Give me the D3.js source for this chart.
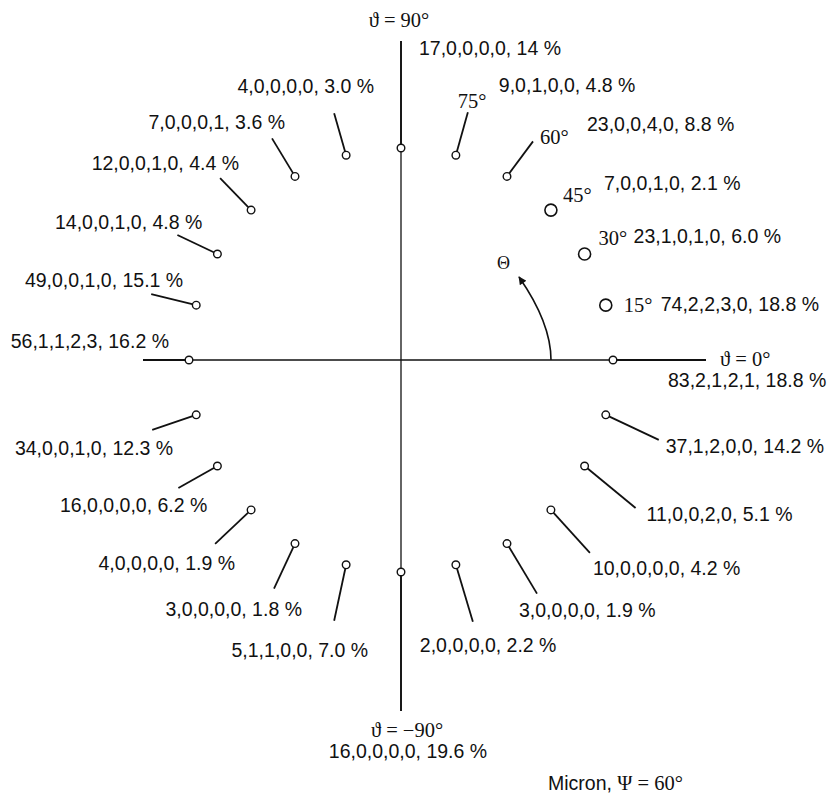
<!DOCTYPE html>
<html>
<head>
<meta charset="utf-8">
<script src="https://cdn.jsdelivr.net/npm/d3@7"></script>
<style>
  html, body { margin: 0; padding: 0; background: #fff; }
  svg { display: block; }
  .lbl { font-family: "Liberation Sans", Arial, sans-serif; font-size: 19.5px; fill: #111; }
  .ser { font-family: "Liberation Serif", "Times New Roman", "DejaVu Serif", serif; fill: #111; }
</style>
</head>
<body>
<svg id="chart" width="831" height="794"></svg>
<script>
// Angular positions of the sampled directions (degrees, counter-clockwise from ϑ = 0°)
const angles = [0, 15, 30, 45, 60, 75, 90, 105, 120, 135, 150, 165,
                180, 195, 210, 225, 240, 255, 270, 285, 300, 315, 330, 345];

// Count tuples per direction
const counts = [
  "83,2,1,2,1", "74,2,2,3,0", "23,1,0,1,0", "7,0,0,1,0", "23,0,0,4,0", "9,0,1,0,0",
  "17,0,0,0,0", "4,0,0,0,0", "7,0,0,0,1", "12,0,0,1,0", "14,0,0,1,0", "49,0,0,1,0",
  "56,1,1,2,3", "34,0,0,1,0", "16,0,0,0,0", "4,0,0,0,0", "3,0,0,0,0", "5,1,1,0,0",
  "16,0,0,0,0", "2,0,0,0,0", "3,0,0,0,0", "10,0,0,0,0", "11,0,0,2,0", "37,1,2,0,0"
];

// Percentages per direction
const percents = [
  "18.8", "18.8", "6.0", "2.1", "8.8", "4.8",
  "14", "3.0", "3.6", "4.4", "4.8", "15.1",
  "16.2", "12.3", "6.2", "1.9", "1.8", "7.0",
  "19.6", "2.2", "1.9", "4.2", "5.1", "14.2"
];

// Degree annotations next to the first-quadrant markers
const degreeTicks = [15, 30, 45, 60, 75];

// Axis captions
const axisCaptions = [
  { angle: 0,   text: "ϑ = 0°" },
  { angle: 90,  text: "ϑ = 90°" },
  { angle: 270, text: "ϑ = −90°" }
];

const footer = { name: "Micron, ", psi: "Ψ = 60°" };

// ---- layout (offsets relative to each marker) ----
const layout = {
  0:   { lead: [93, 0],    text: [55, 27, "start"] },
  15:  { lead: null,       text: [55, 6, "start"],   deg: [18, 7] },
  30:  { lead: null,       text: [49, -11, "start"], deg: [14, -9] },
  45:  { lead: null,       text: [53, -20, "start"], deg: [12, -8] },
  60:  { lead: [26, -35],  text: [80, -45, "start"], deg: [33, -32] },
  75:  { lead: [12, -43],  text: [43, -63, "start"], deg: [2, -47] },
  90:  { lead: [0, -107],  text: [18, -93, "start"] },
  105: { lead: [-12, -42], text: [28, -62, "end"] },
  120: { lead: [-23, -38], text: [-10, -47, "end"] },
  135: { lead: [-31, -32], text: [-12, -40, "end"] },
  150: { lead: [-40, -19], text: [-15, -25, "end"] },
  165: { lead: [-45, -11], text: [-13, -18, "end"] },
  180: { lead: [-46, 0],   text: [-20, -12, "end"] },
  195: { lead: [-44, 15],  text: [-23, 40, "end"] },
  210: { lead: [-39, 22],  text: [-10, 46, "end"] },
  225: { lead: [-36, 34],  text: [-16, 60, "end"] },
  240: { lead: [-21, 45],  text: [7, 72, "end"] },
  255: { lead: [-12, 56],  text: [22, 92, "end"] },
  270: { lead: [0, 139],   text: [7, 186, "middle"] },
  285: { lead: [17, 57],   text: [-36, 87, "start"] },
  300: { lead: [30, 50],   text: [12, 73, "start"] },
  315: { lead: [39, 43],   text: [42, 65, "start"] },
  330: { lead: [51, 42],   text: [62, 55, "start"] },
  345: { lead: [53, 25],   text: [60, 38, "start"] }
};
const captionOffset = { 0: [107, 6, "start"], 90: [-2, -121, "middle"], 270: [6, 165, "middle"] };
const bigMarkers = new Set([15, 30, 45]);

const cx = 401, cy = 360, R = 212;
const svg = d3.select("#chart");

// polar scales
const rScale = d3.scaleLinear().domain([0, 1]).range([0, R]);
const aScale = d3.scaleLinear().domain([0, 360]).range([0, 2 * Math.PI]);
const px = a => cx + rScale(1) * Math.cos(aScale(a));
const py = a => cy - rScale(1) * Math.sin(aScale(a));

// axes
const g = svg.append("g");
g.append("line").attr("x1", 143).attr("x2", 706).attr("y1", cy).attr("y2", cy)
  .attr("stroke", "#111").attr("stroke-width", 1.3);
g.append("line").attr("x1", cx).attr("x2", cx).attr("y1", 41).attr("y2", 711)
  .attr("stroke", "#111").attr("stroke-width", 1.3);

const data = angles.map((a, i) => ({ a, label: `${counts[i]}, ${percents[i]} %`, ...layout[a] }));

// leader lines
g.selectAll("line.lead").data(data.filter(d => d.lead)).join("line")
  .attr("class", "lead")
  .attr("x1", d => px(d.a)).attr("y1", d => py(d.a))
  .attr("x2", d => px(d.a) + d.lead[0]).attr("y2", d => py(d.a) + d.lead[1])
  .attr("stroke", "#111").attr("stroke-width", 1.8);

// markers
g.selectAll("circle.pt").data(data).join("circle")
  .attr("class", "pt")
  .attr("cx", d => px(d.a)).attr("cy", d => py(d.a))
  .attr("r", d => bigMarkers.has(d.a) ? 6 : 3.8)
  .attr("fill", "#fff").attr("stroke", "#111")
  .attr("stroke-width", d => bigMarkers.has(d.a) ? 1.6 : 1.4);

// value labels
g.selectAll("text.lbl").data(data).join("text")
  .attr("class", "lbl")
  .attr("x", d => px(d.a) + d.text[0]).attr("y", d => py(d.a) + d.text[1])
  .attr("text-anchor", d => d.text[2])
  .text(d => d.label);

// degree annotations
g.selectAll("text.deg").data(degreeTicks).join("text")
  .attr("class", "ser deg").attr("font-size", 20.5)
  .attr("x", a => px(a) + layout[a].deg[0]).attr("y", a => py(a) + layout[a].deg[1])
  .text(a => `${a}°`);

// axis captions
g.selectAll("text.cap").data(axisCaptions).join("text")
  .attr("class", "ser cap").attr("font-size", 20.5)
  .attr("x", d => px(d.angle) + captionOffset[d.angle][0])
  .attr("y", d => py(d.angle) + captionOffset[d.angle][1])
  .attr("text-anchor", d => captionOffset[d.angle][2])
  .text(d => d.text);

// rotation arrow Θ
svg.append("defs").append("marker")
  .attr("id", "ah").attr("viewBox", "0 0 10 10").attr("refX", 9).attr("refY", 5)
  .attr("markerWidth", 10).attr("markerHeight", 8).attr("markerUnits", "userSpaceOnUse")
  .attr("orient", "auto")
  .append("path").attr("d", "M0,0 L10,5 L0,10 Z").attr("fill", "#111");
const arrow = d3.path();
arrow.moveTo(551, cy);
arrow.quadraticCurveTo(551, 323, 519, 277);
g.append("path").attr("d", arrow.toString()).attr("fill", "none")
  .attr("stroke", "#111").attr("stroke-width", 1.6).attr("marker-end", "url(#ah)");
g.append("text").attr("class", "ser").attr("font-size", 18)
  .attr("x", 497).attr("y", 269).text("Θ");

// footer
const ft = svg.append("text").attr("x", 548).attr("y", 790);
ft.append("tspan").attr("class", "lbl").text(footer.name);
ft.append("tspan").attr("class", "ser").attr("font-size", 20.5).text(footer.psi);
</script>
</body>
</html>
